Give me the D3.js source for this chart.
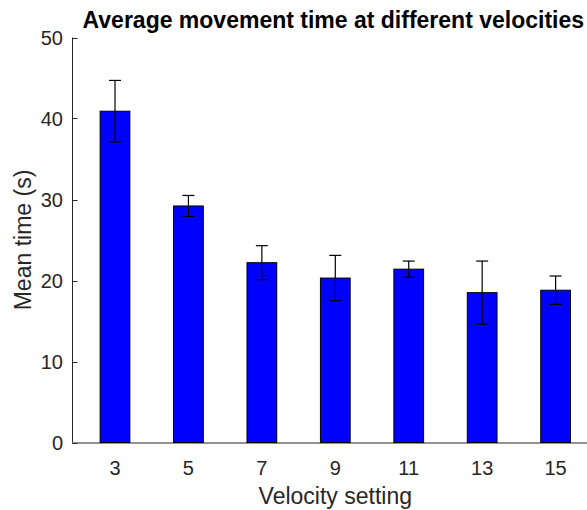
<!DOCTYPE html>
<html>
<head>
<meta charset="utf-8">
<script src="https://cdn.jsdelivr.net/npm/d3@7"></script>
<style>
  html, body { margin: 0; padding: 0; background: #fff; }
  svg { display: block; font-family: "Liberation Sans", Arial, sans-serif; }
</style>
</head>
<body>
<svg id="chart" width="587" height="510"></svg>
<script>
// Velocity settings and the mean movement time measured at each
const velocities = [3, 5, 7, 9, 11, 13, 15];
const meanTimes = [40.9, 29.2, 22.2, 20.3, 21.4, 18.5, 18.8];
const errors = [3.8, 1.3, 2.1, 2.8, 1.0, 3.9, 1.75];
const yTicks = [0, 10, 20, 30, 40, 50];

const svg = d3.select("#chart");
const axisColor = "#262626";

// Axes box (the right side runs past the window edge)
const plot = { left: 72, right: 598.6, top: 37.5, bottom: 442.5 };

const x = d3.scaleLinear().domain([1.829, 16.171]).range([plot.left, plot.right]);
const y = d3.scaleLinear().domain([0, 50]).range([plot.bottom, plot.top]);
const barW = x(0.81) - x(0);
const midX = (plot.left + plot.right) / 2;

// Y axis: ticks point inward
const yAxis = svg.append("g")
  .attr("transform", `translate(${plot.left},0)`)
  .call(d3.axisRight(y).tickValues(yTicks).tickSize(5).tickFormat(""));
yAxis.select(".domain").attr("d", `M0.5,${plot.bottom}V${plot.top}`).attr("stroke", axisColor);
yAxis.selectAll(".tick line").attr("stroke", axisColor);
yAxis.selectAll(".tick").attr("transform", d => `translate(0.5,${Math.round(y(d)) + 0.5})`);

svg.append("g")
  .selectAll("text")
  .data(yTicks)
  .join("text")
  .attr("x", plot.left - 9)
  .attr("y", d => y(d))
  .attr("dy", "0.36em")
  .attr("text-anchor", "end")
  .attr("font-size", 20)
  .attr("fill", axisColor)
  .text(d => d);

// X axis: ticks point inward (up)
const xAxis = svg.append("g")
  .attr("transform", `translate(0,${plot.bottom})`)
  .call(d3.axisTop(x).tickValues(velocities).tickSize(5).tickFormat(""));
xAxis.select(".domain").attr("d", `M${plot.left},0.5H${plot.right}`).attr("stroke", axisColor);
xAxis.selectAll(".tick line").attr("stroke", axisColor);

svg.append("g")
  .selectAll("text")
  .data(velocities)
  .join("text")
  .attr("x", d => x(d))
  .attr("y", plot.bottom + 32.5)
  .attr("text-anchor", "middle")
  .attr("font-size", 20)
  .attr("fill", axisColor)
  .text(d => d);

// Bars
svg.append("g")
  .selectAll("rect")
  .data(velocities)
  .join("rect")
  .attr("x", d => x(d) - barW / 2)
  .attr("width", barW)
  .attr("y", (d, i) => y(meanTimes[i]))
  .attr("height", (d, i) => y(0) - y(meanTimes[i]))
  .attr("fill", "#0000ff")
  .attr("stroke", "#000")
  .attr("stroke-width", 1);

// Error bars
const capHalf = 6;
const eb = svg.append("g").attr("stroke", "#000").attr("stroke-width", 1.2).attr("fill", "none");
velocities.forEach((v, i) => {
  const cx = x(v), hi = y(meanTimes[i] + errors[i]), lo = y(meanTimes[i] - errors[i]);
  eb.append("line").attr("x1", cx).attr("x2", cx).attr("y1", hi).attr("y2", lo);
  eb.append("line").attr("x1", cx - capHalf).attr("x2", cx + capHalf).attr("y1", hi).attr("y2", hi);
  eb.append("line").attr("x1", cx - capHalf).attr("x2", cx + capHalf).attr("y1", lo).attr("y2", lo);
});

// Axis labels
svg.append("text")
  .attr("x", midX)
  .attr("y", 504)
  .attr("text-anchor", "middle")
  .attr("font-size", 23)
  .attr("fill", axisColor)
  .text("Velocity setting");

svg.append("text")
  .attr("transform", `translate(31,${(plot.top + plot.bottom) / 2}) rotate(-90)`)
  .attr("text-anchor", "middle")
  .attr("font-size", 23)
  .attr("fill", axisColor)
  .text("Mean time (s)");

// Title
svg.append("text")
  .attr("x", midX - 2)
  .attr("y", 28)
  .attr("text-anchor", "middle")
  .attr("font-size", 23)
  .attr("font-weight", "bold")
  .attr("fill", "#000")
  .text("Average movement time at different velocities");
</script>
</body>
</html>
